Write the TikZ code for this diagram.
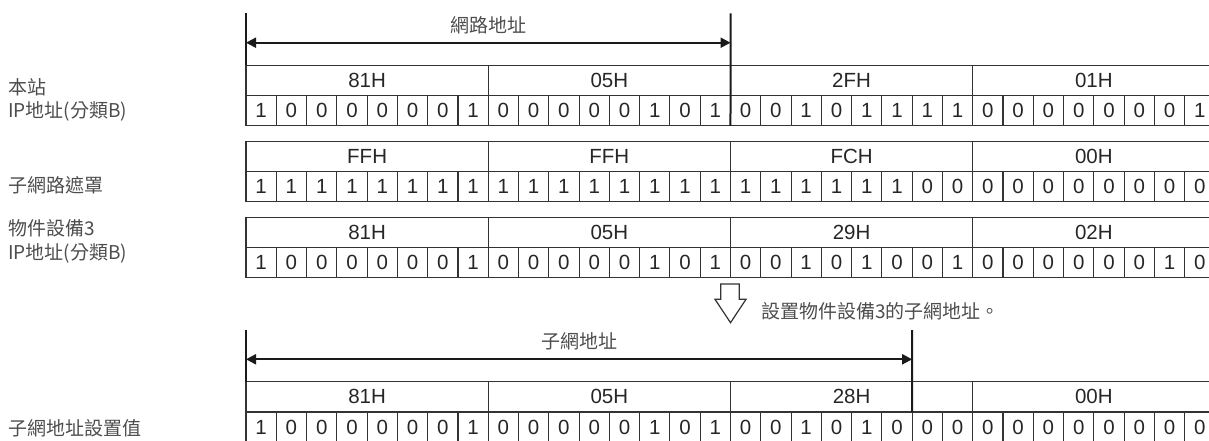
\documentclass[tikz,border=0pt]{standalone}
\usepackage{fontspec}
\setmainfont{Liberation Sans}
\newfontfamily\cjk{Noto Sans CJK TC}
\usepackage{tikz}
\usetikzlibrary{arrows.meta}
\definecolor{gridink}{HTML}{333333}
\definecolor{barink}{HTML}{1A1A1A}
\definecolor{labelink}{HTML}{4D4D4D}

\begin{document}
\begin{tikzpicture}[x=1pt,y=-1pt,
    bitcell/.style={draw=gridink,line width=1.1pt,minimum width=30.28pt,
      minimum height=30.3pt,inner sep=0pt,outer sep=0pt,
      font=\fontsize{20.5}{20.5}\selectfont,text=black!85},
    bytecell/.style={bitcell,minimum width=242.24pt},
    rowlabel/.style={anchor=west,align=left,inner sep=0pt,
      font=\cjk\fontsize{19}{23.5}\selectfont,text=labelink},
    spanbar/.style={draw=barink,line width=2pt},
    spanarrow/.style={draw=barink,line width=2pt,
      {Triangle[length=10pt,width=10pt]}-{Triangle[length=10pt,width=10pt]}}]
  \useasboundingbox (0,0) rectangle (1209,440);

  % row labels
  \node[rowlabel] (hostlabel) at (8,99.9) {本站\\IP地址(分類B)};
  \node[rowlabel] (masklabel) at (8,185) {子網路遮罩};
  \node[rowlabel] (devlabel) at (8,241.5) {物件設備3\\IP地址(分類B)};
  \node[rowlabel] (sublabel) at (8,428) {子網地址設置值};

  % own station
  \foreach \h [count=\j from 0] in {81H,05H,2FH,01H}
    \node[bytecell] (hostbyte-\j) at ({246+242.24*(\j+0.5)},80.45) {\h};
  \foreach \b [count=\i from 0] in {1,0,0,0,0,0,0,1,0,0,0,0,0,1,0,1,
      0,0,1,0,1,1,1,1,0,0,0,0,0,0,0,1}
    \node[bitcell] (host-\i) at ({246+30.28*(\i+0.5)},110.75) {\b};

  % subnet mask
  \foreach \h [count=\j from 0] in {FFH,FFH,FCH,00H}
    \node[bytecell] (maskbyte-\j) at ({246+242.24*(\j+0.5)},156.45) {\h};
  \foreach \b [count=\i from 0] in {1,1,1,1,1,1,1,1,1,1,1,1,1,1,1,1,
      1,1,1,1,1,1,0,0,0,0,0,0,0,0,0,0}
    \node[bitcell] (mask-\i) at ({246+30.28*(\i+0.5)},186.75) {\b};

  % device 3
  \foreach \h [count=\j from 0] in {81H,05H,29H,02H}
    \node[bytecell] (devbyte-\j) at ({246+242.24*(\j+0.5)},232.45) {\h};
  \foreach \b [count=\i from 0] in {1,0,0,0,0,0,0,1,0,0,0,0,0,1,0,1,
      0,0,1,0,1,0,0,1,0,0,0,0,0,0,1,0}
    \node[bitcell] (dev-\i) at ({246+30.28*(\i+0.5)},262.75) {\b};

  % subnet address
  \foreach \h [count=\j from 0] in {81H,05H,28H,00H}
    \node[bytecell] (subbyte-\j) at ({246+242.24*(\j+0.5)},396.85) {\h};
  \foreach \b [count=\i from 0] in {1,0,0,0,0,0,0,1,0,0,0,0,0,1,0,1,
      0,0,1,0,1,0,0,0,0,0,0,0,0,0,0,0}
    \node[bitcell] (sub-\i) at ({246+30.28*(\i+0.5)},427.15) {\b};

  % network address span
  \coordinate (netL) at (246,13.3);
  \coordinate (netR) at (730.56,13.3);
  \coordinate (netL-tip) at (246,42.7);
  \coordinate (netR-tip) at (730.56,42.7);
  \draw[spanbar] (netL) -- (hostbyte-0.north west);
  \draw[spanbar] (netR) -- (host-15.south east);
  \draw[spanarrow] (netL-tip) -- (netR-tip);
  \node[font=\cjk\fontsize{19}{19}\selectfont,text=labelink] (netlabel)
    at (488.3,25) {網路地址};

  % hollow arrow and note
  \draw[draw=gridink,line width=1.2pt,fill=white,line join=miter]
    (720.7,284) -- (739.3,284) -- (739.3,299.3) -- (746,299.3)
    -- (730.5,322.7) -- (715,299.3) -- (720.7,299.3) -- cycle;
  \node[anchor=west,inner sep=0pt,font=\cjk\fontsize{19}{19}\selectfont,
    text=labelink] (note) at (761,311.7) {設置物件設備3的子網地址。};

  % subnet address span
  \coordinate (subL) at (246,330);
  \coordinate (subR) at (912.16,330);
  \coordinate (subL-tip) at (246,359.3);
  \coordinate (subR-tip) at (912.16,359.3);
  \draw[spanbar] (subL) -- (subbyte-0.north west);
  \draw[spanbar] (subR) -- (sub-21.north east);
  \draw[spanarrow] (subL-tip) -- (subR-tip);
  \node[font=\cjk\fontsize{19}{19}\selectfont,text=labelink] (sublabeltop)
    at (579.1,341) {子網地址};
\end{tikzpicture}
\end{document}
